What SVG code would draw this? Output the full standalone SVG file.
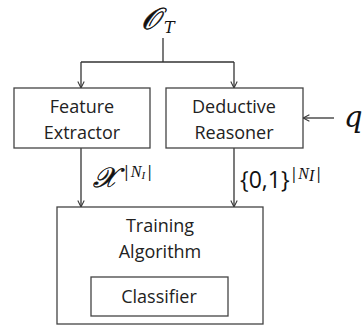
<svg xmlns="http://www.w3.org/2000/svg" width="362" height="326" viewBox="0 0 362 326">
<defs>
<marker id="ah" viewBox="0 0 10 10" refX="9" refY="5" markerWidth="8" markerHeight="8" markerUnits="userSpaceOnUse" orient="auto">
<path d="M1,1 L9,5 L1,9" fill="none" stroke="#333" stroke-width="1.3"/>
</marker>
<style>
.box{fill:#fff;stroke:#444;stroke-width:1.3}
.lbl{font-family:"Open Sans","Liberation Sans",sans-serif;font-size:18px;fill:#222;text-anchor:middle}
.ln{fill:none;stroke:#333;stroke-width:1.3}
.m{font-family:"DejaVu Serif","Liberation Serif",serif;fill:#111;font-style:italic}
.sup{font-family:"Open Sans",sans-serif;font-size:16px;fill:#111}
.it{font-family:"Liberation Serif",serif;font-style:italic}
</style>
</defs>
<rect width="362" height="326" fill="#fff"/>
<g id="connectors">
<path class="ln" d="M163,38 V62"/>
<path class="ln" d="M81,62 H234"/>
<path class="ln" d="M81,62 V88" marker-end="url(#ah)"/>
<path class="ln" d="M234,62 V88" marker-end="url(#ah)"/>
<path class="ln" d="M81,148 V207" marker-end="url(#ah)"/>
<path class="ln" d="M234,148 V207" marker-end="url(#ah)"/>
<path class="ln" d="M334,118 H303" marker-end="url(#ah)"/>
</g>
<g id="input-OT">
<text class="m" x="141" y="29" font-size="30" stroke="#111" stroke-width="0.6">𝒪</text>
<text class="m" x="164" y="33" font-size="16">T</text>
</g>
<g id="input-q">
<text class="m" x="344" y="127" font-size="29">q</text>
</g>
<g id="feature-extractor">
<rect class="box" x="14" y="88" width="136" height="60"/>
<text class="lbl" x="82" y="113">Feature</text>
<text class="lbl" x="82" y="139">Extractor</text>
</g>
<g id="deductive-reasoner">
<rect class="box" x="166" y="88" width="137" height="60"/>
<text class="lbl" x="234" y="113">Deductive</text>
<text class="lbl" x="234" y="139">Reasoner</text>
</g>
<g id="label-x">
<text class="m" x="93" y="187" font-size="28" stroke="#111" stroke-width="0.5">𝒳</text>
<text class="sup" x="122" y="177">|<tspan class="it" font-size="16">N</tspan><tspan class="it" font-size="11" dy="2">I</tspan><tspan dy="-2">|</tspan></text>
</g>
<g id="label-01">
<text x="240" y="188" font-family="'Open Sans',sans-serif" font-size="23" fill="#111">{0,1}<tspan class="sup" dy="-9">|</tspan><tspan class="sup it">N</tspan><tspan class="sup it" font-size="11" dy="2">I</tspan><tspan class="sup" dy="-2">|</tspan></text>
</g>
<g id="training-algorithm">
<rect class="box" x="57" y="207" width="206" height="117"/>
<text class="lbl" x="160" y="232">Training</text>
<text class="lbl" x="160" y="258">Algorithm</text>
</g>
<g id="classifier">
<rect class="box" x="91" y="277" width="137" height="39"/>
<text class="lbl" x="159" y="303">Classifier</text>
</g>
</svg>
